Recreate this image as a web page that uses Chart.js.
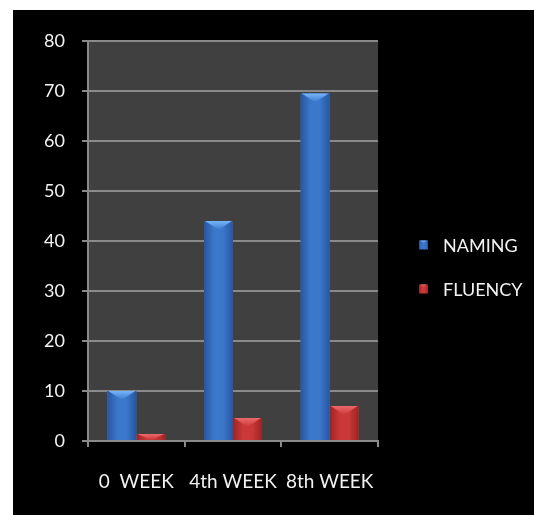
<!DOCTYPE html>
<html>
<head>
<meta charset="utf-8">
<script src="https://cdn.jsdelivr.net/npm/chart.js@4/dist/chart.umd.min.js"></script>
<style>
  html, body { margin: 0; padding: 0; background: #ffffff; }
  #frame { position: absolute; left: 13px; top: 10px; width: 521px; height: 505px; background: #000000; }
  canvas { display: block; }
</style>
</head>
<body>
<div id="frame"><canvas id="chart" width="521" height="505"></canvas></div>
<script>
const categories = ['0  WEEK', '4th WEEK', '8th WEEK'];
const namingValues = [10, 44, 69.5];
const fluencyValues = [1.4, 4.6, 7];
const seriesNames = ['NAMING', 'FLUENCY'];
const yTicks = [0, 10, 20, 30, 40, 50, 60, 70, 80];

const palette = {
  NAMING:  { base: '#3b78cc', edge: '#2856a0', light: '#78b6fa' },
  FLUENCY: { base: '#cc3838', edge: '#9c2424', light: '#ec6a6a' }
};

const FONT = 'Lato, "Open Sans", sans-serif';
const TEXT = '#f2f2f2';
const GRID = '#8a8a8a';

// Shades a rectangle like a rounded 3D column: darker sides, lighter middle, and a bevel on top.
function shadeBox(ctx, left, top, right, bottom, colors) {
  const w = right - left;
  const g = ctx.createLinearGradient(left, 0, right, 0);
  g.addColorStop(0, colors.edge);
  g.addColorStop(0.35, colors.base);
  g.addColorStop(0.65, colors.base);
  g.addColorStop(1, colors.edge);
  ctx.fillStyle = g;
  ctx.fillRect(left, top, w, bottom - top);
  const bevel = Math.min(w * 0.3, (bottom - top));
  if (bevel > 1) {
    const b = ctx.createLinearGradient(0, top, 0, top + bevel);
    b.addColorStop(0, colors.light);
    b.addColorStop(1, colors.base);
    ctx.fillStyle = b;
    ctx.beginPath();
    ctx.moveTo(left + 1, top);
    ctx.lineTo(right - 1, top);
    ctx.lineTo(left + w / 2, top + bevel);
    ctx.closePath();
    ctx.fill();
  }
}

const plotBackground = {
  id: 'plotBackground',
  beforeDraw(chart) {
    const { ctx, chartArea: a } = chart;
    ctx.save();
    ctx.fillStyle = '#404040';
    ctx.fillRect(a.left, a.top, a.right - a.left, a.bottom - a.top);
    ctx.restore();
  }
};

const columnShading = {
  id: 'columnShading',
  afterDatasetDraw(chart, args) {
    const ctx = chart.ctx;
    const ds = chart.data.datasets[args.index];
    const colors = palette[ds.label];
    ctx.save();
    ctx.beginPath();
    const a = chart.chartArea;
    ctx.rect(a.left, a.top - 2, a.right - a.left, a.bottom - a.top + 2);
    ctx.clip();
    args.meta.data.forEach(bar => {
      const p = bar.getProps(['x', 'y', 'base', 'width'], true);
      shadeBox(ctx, p.x - p.width / 2, p.y, p.x + p.width / 2, p.base, colors);
    });
    ctx.restore();
  }
};

const sideLegend = {
  id: 'sideLegend',
  afterDraw(chart) {
    const { ctx, chartArea: a } = chart;
    ctx.save();
    ctx.font = '18px ' + FONT;
    ctx.textBaseline = 'middle';
    chart.data.datasets.forEach((ds, i) => {
      const cy = 235 + i * 44;
      const bx = a.right + 41;
      shadeBox(ctx, bx, cy - 4.5, bx + 9, cy + 4.5, palette[ds.label]);
      ctx.fillStyle = TEXT;
      ctx.fillText(ds.label, bx + 24, cy + 1);
    });
    ctx.restore();
  }
};

new Chart(document.getElementById('chart'), {
  type: 'bar',
  data: {
    labels: categories,
    datasets: [
      { label: seriesNames[0], data: namingValues, backgroundColor: palette.NAMING.base },
      { label: seriesNames[1], data: fluencyValues, backgroundColor: palette.FLUENCY.base }
    ]
  },
  options: {
    responsive: false,
    animation: false,
    devicePixelRatio: 1,
    layout: { padding: { left: 0, right: 156, top: 31, bottom: 0 } },
    datasets: { bar: { categoryPercentage: 0.6, barPercentage: 1.0, borderWidth: 0 } },
    plugins: { legend: { display: false }, tooltip: { enabled: false } },
    scales: {
      x: {
        offset: true,
        afterFit(scale) { scale.height = 74; },
        grid: { offset: true, drawOnChartArea: false, drawTicks: true, tickLength: 6, color: GRID, lineWidth: 2 },
        border: { display: true, color: GRID, width: 2 },
        ticks: { color: TEXT, font: { family: FONT, size: 19 }, padding: 23, maxRotation: 0, autoSkip: false }
      },
      y: {
        min: 0,
        max: 80,
        afterFit(scale) { scale.width = 75; },
        afterBuildTicks(scale) { scale.ticks = yTicks.map(v => ({ value: v })); },
        grid: { color: GRID, lineWidth: 2, drawTicks: true, tickLength: 6 },
        border: { display: true, color: GRID, width: 2 },
        ticks: { color: TEXT, font: { family: FONT, size: 18 }, padding: 17 }
      }
    }
  },
  plugins: [plotBackground, columnShading, sideLegend]
});
</script>
</body>
</html>
